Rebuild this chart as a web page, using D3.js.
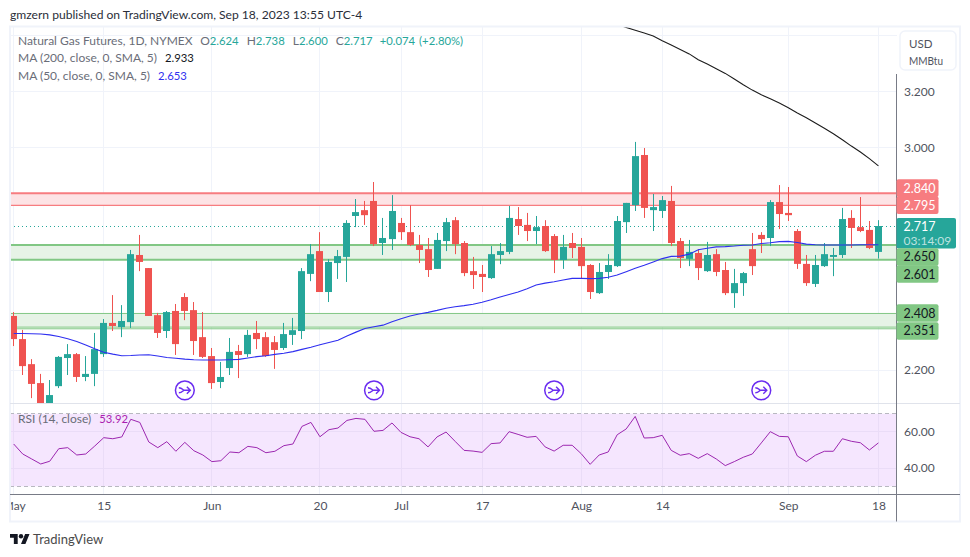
<!DOCTYPE html>
<html>
<head>
<meta charset="utf-8">
<script src="https://cdn.jsdelivr.net/npm/d3@7"></script>
<style>
  html, body { margin: 0; padding: 0; background: #fff; }
  svg { display: block; }
  text { font-family: Lato, sans-serif; }
</style>
</head>
<body>
<svg id="chart" width="970" height="557"></svg>
<script>
// daily candles, May 1 to Sep 18 2023
const opens = [2.394,2.311,2.221,2.153,2.075,2.142,2.243,2.257,2.175,2.186,
  2.257,2.369,2.354,2.372,2.613,2.566,2.397,2.340,2.412,2.462,
  2.415,2.318,2.250,2.157,2.207,2.268,2.257,2.333,2.318,2.300,
  2.279,2.326,2.340,2.545,2.627,2.480,2.584,2.606,2.753,2.774,
  2.807,2.656,2.670,2.728,2.695,2.649,2.634,2.563,2.663,2.738,
  2.656,2.555,2.545,2.530,2.613,2.624,2.742,2.721,2.699,2.717,
  2.681,2.595,2.656,2.642,2.577,2.476,2.552,2.573,2.731,2.792,
  2.972,2.774,2.771,2.807,2.663,2.599,2.620,2.555,2.616,2.559,
  2.476,2.512,2.634,2.685,2.674,2.803,2.764,2.699,2.581,2.509,
  2.573,2.606,2.613,2.746,2.713,2.703,2.624];
const highs = [2.408,2.344,2.239,2.186,2.164,2.250,2.293,2.261,2.250,2.333,
  2.383,2.469,2.433,2.631,2.685,2.566,2.405,2.412,2.437,2.476,
  2.444,2.408,2.279,2.229,2.315,2.290,2.344,2.376,2.336,2.322,
  2.369,2.387,2.566,2.652,2.695,2.598,2.631,2.738,2.814,2.807,
  2.875,2.746,2.828,2.746,2.792,2.685,2.674,2.692,2.746,2.749,
  2.663,2.606,2.577,2.645,2.656,2.789,2.785,2.764,2.753,2.738,
  2.688,2.685,2.692,2.674,2.580,2.584,2.616,2.753,2.800,3.019,
  2.997,2.832,2.825,2.861,2.674,2.667,2.634,2.660,2.634,2.588,
  2.563,2.552,2.692,2.695,2.810,2.864,2.857,2.706,2.613,2.613,
  2.656,2.638,2.782,2.774,2.821,2.735,2.738];
const lows = [2.286,2.182,2.099,2.060,2.060,2.135,2.182,2.157,2.160,2.142,
  2.247,2.340,2.318,2.351,2.555,2.394,2.315,2.315,2.254,2.379,
  2.254,2.243,2.132,2.135,2.182,2.171,2.247,2.275,2.247,2.204,
  2.272,2.290,2.311,2.519,2.480,2.444,2.527,2.516,2.713,2.721,
  2.645,2.613,2.631,2.667,2.645,2.584,2.534,2.563,2.627,2.616,
  2.537,2.491,2.480,2.527,2.580,2.616,2.685,2.663,2.652,2.624,
  2.548,2.563,2.602,2.527,2.455,2.473,2.527,2.570,2.692,2.771,
  2.746,2.699,2.746,2.645,2.566,2.573,2.523,2.552,2.537,2.469,
  2.423,2.466,2.541,2.620,2.645,2.706,2.735,2.563,2.502,2.498,
  2.570,2.537,2.602,2.638,2.695,2.634,2.600];
const closes = [2.311,2.214,2.150,2.075,2.110,2.247,2.257,2.175,2.186,2.275,
  2.369,2.358,2.376,2.616,2.588,2.394,2.333,2.408,2.293,2.412,
  2.304,2.247,2.153,2.175,2.265,2.254,2.326,2.311,2.250,2.272,
  2.329,2.343,2.555,2.616,2.480,2.588,2.609,2.728,2.767,2.756,
  2.652,2.674,2.771,2.695,2.649,2.631,2.559,2.667,2.731,2.652,
  2.548,2.541,2.534,2.616,2.627,2.746,2.717,2.699,2.713,2.627,
  2.595,2.642,2.638,2.573,2.480,2.552,2.577,2.735,2.800,2.968,
  2.782,2.785,2.810,2.656,2.602,2.624,2.566,2.613,2.552,2.476,
  2.512,2.548,2.573,2.670,2.803,2.760,2.756,2.581,2.512,2.577,
  2.616,2.613,2.742,2.710,2.699,2.638,2.717];

const ma50 = [2.331,2.331,2.330,2.329,2.326,2.320,2.312,2.302,2.290,2.276,
  2.264,2.257,2.251,2.252,2.254,2.255,2.250,2.245,2.242,2.239,
  2.237,2.236,2.236,2.236,2.237,2.238,2.243,2.248,2.251,2.256,
  2.260,2.266,2.274,2.282,2.291,2.299,2.307,2.322,2.336,2.349,
  2.355,2.361,2.373,2.384,2.394,2.401,2.407,2.414,2.422,2.427,
  2.431,2.436,2.443,2.452,2.462,2.471,2.480,2.492,2.505,2.512,
  2.517,2.523,2.529,2.529,2.528,2.529,2.533,2.541,2.553,2.565,
  2.576,2.588,2.600,2.608,2.609,2.616,2.632,2.637,2.642,2.643,
  2.645,2.648,2.649,2.654,2.657,2.661,2.662,2.658,2.652,2.650,
  2.649,2.649,2.649,2.649,2.650,2.650,2.650];

// the 200 day average only enters the visible range at bar 67
const ma200Start = 67;
const ma200 = [3.441,3.430,3.420,3.410,3.399,3.382,3.367,3.351,3.335,3.314,
  3.299,3.282,3.265,3.245,3.224,3.205,3.188,3.174,3.159,3.142,
  3.123,3.106,3.087,3.068,3.048,3.027,3.004,2.983,2.959,2.933];

const rsi = [53.3,47.8,45.05,42.3,43.8,50.7,51.3,47.25,47.8,52.2,
  56.8,56.2,57.2,66.9,65.2,54.4,51.3,54.6,49.3,54.2,
  49.6,47.25,43.6,44.1,48.9,48.5,52,51.3,48.5,49.3,
  52.4,53.3,63,65.2,57.3,61.2,62.1,66.3,67.4,66.9,
  60.3,60.8,64.9,59.7,57.3,56.2,51.7,57.2,59.9,54.8,
  49.8,49.4,48.7,53.5,53.9,60.1,58.6,57,57.5,51.7,
  49.4,52.6,52.6,48,42.1,47.25,48.9,58.4,61.6,68.5,
  56.6,56.8,58.1,49.8,47.1,48,45.4,48,45.05,41.4,
  43.6,46,47.8,53.9,60.1,57.5,57.3,46.7,43.6,47.1,
  49.3,49.3,56.2,54.8,54,50,53.92];

const timeTicks = [0,10,22,34,43,52,63,72,86,96];
const timeLabels = ['May','15','Jun','20','Jul','17','Aug','14','Sep','18'];
const priceTicks = [3.4,3.2,3.0,2.8,2.6,2.4,2.2];
// the others sit behind the unit box and the price tags
const priceLabelTicks = [3.2,3.0,2.2];
const rsiTicks = [60,40];
const rsiBand = [70,30];
const rollBars = [19,40,60,83];

// support / resistance zones as drawn on the chart
const redZone = [2.835,2.791];
const greenZone = [2.649,2.596];
const lowZone = [2.403,2.354];
const lowZoneExtra = 2.348;

const tagLabels = ['2.840','2.795','2.650','2.601','2.408','2.351'];
const tagValues = [2.840,2.795,2.650,2.601,2.408,2.351];
const lastPrice = 2.717;

const M = { left: 10, right: 897, top: 27, paneBottom: 403.5, rsiBottom: 494, frameRight: 960, frameBottom: 521.5 };
const RED = '#ef5350', GREEN = '#26a69a', GRID = '#f0f3fa';
const FONT = 'Lato, sans-serif';

const svg = d3.select('#chart');

const x = d3.scaleLinear().domain([0, 96]).range([13.7, 878.4]);
const y = d3.scaleLinear().domain([2.2, 3.2]).range([370, 91.5]);
const yRsi = d3.scaleLinear().domain([30, 70]).range([486.3, 413.7]);

const px = (i) => Math.round(x(i) - 0.5) + 0.5;
const crisp = (v) => Math.round(v - 0.5) + 0.5;

const defs = svg.append('defs');
defs.append('clipPath').attr('id', 'pane').append('rect')
  .attr('x', M.left).attr('y', M.top).attr('width', M.right - M.left).attr('height', M.paneBottom - M.top);
defs.append('clipPath').attr('id', 'timeClip').append('rect')
  .attr('x', M.left + 1).attr('y', M.rsiBottom).attr('width', M.frameRight - M.left).attr('height', 30);

// header
svg.append('text').attr('x', 10).attr('y', 19).attr('font-size', 12.1).attr('fill', '#2a2e39')
  .text('gmzern published on TradingView.com, Sep 18, 2023 13:55 UTC-4');

// grid
svg.append('g').selectAll('line').data(timeTicks).join('line')
  .attr('x1', px).attr('x2', px).attr('y1', M.top).attr('y2', M.rsiBottom)
  .attr('stroke', GRID);
svg.append('g').selectAll('line').data(priceTicks).join('line')
  .attr('x1', M.left).attr('x2', M.right)
  .attr('y1', (d) => crisp(y(d))).attr('y2', (d) => crisp(y(d)))
  .attr('stroke', GRID);

// zones
function drawZone(levels, fill, stroke, w1, w2) {
  const [top, bottom] = levels;
  svg.append('rect').attr('x', M.left).attr('width', M.right - M.left)
    .attr('y', y(top)).attr('height', y(bottom) - y(top)).attr('fill', fill);
  [[top, w1], [bottom, w2]].forEach(([v, w]) => {
    svg.append('line').attr('x1', M.left).attr('x2', M.right)
      .attr('y1', y(v)).attr('y2', y(v)).attr('stroke', stroke).attr('stroke-width', w);
  });
}
drawZone(redZone, '#fde3e5', '#f77c80', 2, 1.2);
drawZone(greenZone, '#e6f3e6', '#81c784', 2, 2);
drawZone(lowZone, '#e6f3e6', '#81c784', 1, 1);
svg.append('line').attr('x1', M.left).attr('x2', M.right)
  .attr('y1', y(lowZoneExtra)).attr('y2', y(lowZoneExtra)).attr('stroke', '#81c784');

// last price dotted line
svg.append('line').attr('x1', M.left).attr('x2', M.right)
  .attr('y1', crisp(y(lastPrice))).attr('y2', crisp(y(lastPrice)))
  .attr('stroke', GREEN).attr('stroke-dasharray', '1 3');

// candles
const bars = opens.map((o, i) => ({ i, o, h: highs[i], l: lows[i], c: closes[i] }));
const candles = svg.append('g').attr('clip-path', 'url(#pane)');
candles.selectAll('line').data(bars).join('line')
  .attr('x1', (d) => px(d.i)).attr('x2', (d) => px(d.i))
  .attr('y1', (d) => y(d.h)).attr('y2', (d) => y(d.l))
  .attr('stroke', (d) => (d.c >= d.o ? GREEN : RED));
candles.selectAll('rect').data(bars).join('rect')
  .attr('x', (d) => px(d.i) - 3.5).attr('width', 7)
  .attr('y', (d) => y(Math.max(d.o, d.c)))
  .attr('height', (d) => Math.max(1, Math.abs(y(d.o) - y(d.c))))
  .attr('fill', (d) => (d.c >= d.o ? GREEN : RED));

// moving averages
const maLine = d3.line().x((d) => x(d.i)).y((d) => y(d.v));
candles.append('path')
  .attr('d', maLine(ma50.map((v, i) => ({ i, v }))))
  .attr('fill', 'none').attr('stroke', '#2f2ff0').attr('stroke-width', 1.1);
candles.append('path')
  .attr('d', maLine(ma200.map((v, i) => ({ i: i + ma200Start, v }))))
  .attr('fill', 'none').attr('stroke', '#1c1c1c').attr('stroke-width', 1.1);

// contract roll markers
const roll = svg.append('g').selectAll('g').data(rollBars).join('g')
  .attr('transform', (d) => `translate(${x(d)},390.3)`);
roll.append('circle').attr('r', 9.4).attr('fill', '#fff').attr('stroke', '#6a2cf0').attr('stroke-width', 1.5);
roll.append('path').attr('d', 'M-6,-2.5 C-3,-2.5 -2,-0.5 -1,0 C-2,0.5 -3,2.5 -6,2.5 M-1,0 L5.5,0 M2,-3.5 L5.5,0 L2,3.5')
  .attr('fill', 'none').attr('stroke', '#6a2cf0').attr('stroke-width', 1.4);

// RSI pane
svg.append('rect').attr('x', M.left).attr('width', M.right - M.left)
  .attr('y', yRsi(rsiBand[0])).attr('height', yRsi(rsiBand[1]) - yRsi(rsiBand[0]))
  .attr('fill', '#f5e6fe');
svg.append('g').selectAll('line').data(timeTicks).join('line')
  .attr('x1', px).attr('x2', px).attr('y1', yRsi(rsiBand[0])).attr('y2', yRsi(rsiBand[1]))
  .attr('stroke', '#eadcf7');
svg.append('g').selectAll('line').data(rsiTicks).join('line')
  .attr('x1', M.left).attr('x2', M.right)
  .attr('y1', (d) => crisp(yRsi(d))).attr('y2', (d) => crisp(yRsi(d)))
  .attr('stroke', '#eadcf7');
svg.append('g').selectAll('line').data(rsiBand).join('line')
  .attr('x1', M.left).attr('x2', M.right)
  .attr('y1', (d) => crisp(yRsi(d))).attr('y2', (d) => crisp(yRsi(d)))
  .attr('stroke', '#b8b8c0').attr('stroke-dasharray', '4 3');
svg.append('path')
  .attr('d', d3.line().x((d, i) => x(i)).y((d) => yRsi(d))(rsi))
  .attr('fill', 'none').attr('stroke', '#9c27b0').attr('stroke-width', 1);

// frame and separators
svg.append('rect').attr('x', M.left).attr('y', 26.5)
  .attr('width', M.frameRight - M.left).attr('height', M.frameBottom - 26.5)
  .attr('fill', 'none').attr('stroke', GRID).attr('stroke-width', 2);
svg.append('line').attr('x1', M.left).attr('x2', M.frameRight).attr('y1', M.paneBottom).attr('y2', M.paneBottom)
  .attr('stroke', '#e0e3eb');
svg.append('line').attr('x1', M.left).attr('x2', M.frameRight).attr('y1', M.rsiBottom + 0.5).attr('y2', M.rsiBottom + 0.5)
  .attr('stroke', '#787b86');
svg.append('line').attr('x1', M.right - 0.5).attr('x2', M.right - 0.5).attr('y1', 74).attr('y2', M.frameBottom)
  .attr('stroke', '#787b86');

// axes
const priceAxis = d3.axisRight(y).tickValues(priceLabelTicks).tickFormat(d3.format('.3f')).tickSize(0).tickPadding(7);
const pa = svg.append('g').attr('transform', `translate(${M.right},0)`).call(priceAxis);
pa.select('.domain').remove();
pa.selectAll('text').attr('font-size', 12).attr('fill', '#50535e').style('font-family', FONT);

const rsiAxis = d3.axisRight(yRsi).tickValues(rsiTicks).tickFormat(d3.format('.2f')).tickSize(0).tickPadding(7);
const ra = svg.append('g').attr('transform', `translate(${M.right},0)`).call(rsiAxis);
ra.select('.domain').remove();
ra.selectAll('text').attr('font-size', 12).attr('fill', '#50535e').style('font-family', FONT);

const timeAxis = d3.axisBottom(x).tickValues(timeTicks).tickFormat((d, i) => timeLabels[i]).tickSize(0).tickPadding(7);
const ta = svg.append('g').attr('clip-path', 'url(#timeClip)').append('g')
  .attr('transform', `translate(0,${M.rsiBottom})`).call(timeAxis);
ta.select('.domain').remove();
ta.selectAll('text').attr('font-size', 12).attr('fill', '#50535e').style('font-family', FONT);

// unit box
svg.append('rect').attr('x', 900).attr('y', 31).attr('width', 56).attr('height', 39).attr('rx', 5)
  .attr('fill', '#fff').attr('stroke', GRID).attr('stroke-width', 1.5);
svg.append('text').attr('x', 909).attr('y', 47.5).attr('font-size', 11.5).attr('fill', '#50535e').text('USD');
svg.append('text').attr('x', 909).attr('y', 64.5).attr('font-size', 11.5).attr('fill', '#50535e')
  .attr('textLength', 34).attr('lengthAdjust', 'spacingAndGlyphs').text('MMBtu');

// current price tag with countdown
const lastTag = svg.append('g').attr('transform', `translate(${M.right - 0.5},218)`);
lastTag.append('rect').attr('width', 59.5).attr('height', 30.5).attr('rx', 2).attr('fill', GREEN);
lastTag.append('text').attr('x', 7).attr('y', 13).attr('font-size', 12.5).attr('fill', '#fff').text('2.717');
lastTag.append('text').attr('x', 7).attr('y', 27).attr('font-size', 12).attr('fill', '#fff').attr('fill-opacity', 0.7).text('03:14:09');

// price tags, pushed apart the way the platform stacks them
const tagShift = [-3.6, 0.8, 12.3, 15.7, 1, 3];
const tagFill = [ '#f77c80', '#f77c80', '#81c784', '#81c784', '#81c784', '#81c784' ];
const tagText = [ '#fff', '#fff', '#131722', '#131722', '#131722', '#131722' ];
const tags = svg.append('g').selectAll('g').data(tagValues).join('g')
  .attr('transform', (d, i) => `translate(${M.right - 0.5},${y(d) + tagShift[i]})`);
tags.append('rect').attr('x', 0).attr('y', -8.8).attr('width', 42).attr('height', 17.6).attr('rx', 2)
  .attr('fill', (d, i) => tagFill[i]);
tags.append('text').attr('x', 7).attr('dy', '0.36em').attr('font-size', 12.5)
  .attr('fill', (d, i) => tagText[i]).text((d, i) => tagLabels[i]);

// legends, numbers a bit smaller since Lato digits run wide
function legendRow(py, parts) {
  const t = svg.append('text').attr('x', 18).attr('y', py).attr('font-size', 12);
  parts.forEach(([str, fill, dx]) => {
    t.append('tspan').attr('fill', fill).attr('dx', dx || 0)
      .attr('font-size', /^[+(\d]/.test(str) ? 11.3 : 12).text(str);
  });
}
const TXT = '#6a6d78';
legendRow(45, [['Natural Gas Futures, 1D, NYMEX', TXT], ['O', TXT, 8], ['2.624', GREEN], ['H', TXT, 8], ['2.738', GREEN],
  ['L', TXT, 8], ['2.600', GREEN], ['C', TXT, 8], ['2.717', GREEN], ['+0.074', GREEN, 7], ['(+2.80%)', GREEN, 4]]);
legendRow(62, [['MA (200, close, 0, SMA, 5)', TXT], ['2.933', '#131722', 8]]);
legendRow(80, [['MA (50, close, 0, SMA, 5)', TXT], ['2.653', '#2f2ff0', 8]]);
legendRow(423, [['RSI (14, close)', TXT], ['53.92', '#ab1fb0', 8]]);

// logo
const logo = svg.append('g').attr('transform', 'translate(10,531.8) scale(0.55)').attr('fill', '#131722');
logo.append('path').attr('d', 'M14 22H7V11H0V4h14v18zM28 22h-8l7.5-18h8L28 22z');
logo.append('circle').attr('cx', 20).attr('cy', 8).attr('r', 4);
svg.append('text').attr('x', 33).attr('y', 544).attr('font-size', 13).attr('fill', '#4a4a4a').text('TradingView');
</script>
</body>
</html>
